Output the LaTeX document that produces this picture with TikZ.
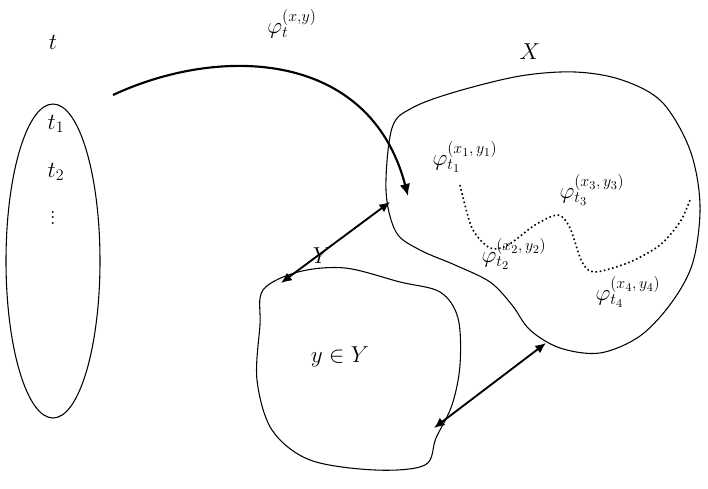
\documentclass[tikz,border=0pt]{standalone}
\usetikzlibrary{arrows.meta,shapes.geometric}
\begin{document}
\begin{tikzpicture}[x=0.75pt,y=-0.75pt,
  blob/.style={draw,line width=0.8pt},
  lbl/.style={font=\fontsize{18}{20}\selectfont},
  dbl/.style={{Latex[length=8pt,width=7pt]}-{Latex[length=8pt,width=7pt]},line width=1.4pt}]
\useasboundingbox (0,0) rectangle (708,489);
\node[draw,ellipse,minimum width=70.5pt,minimum height=235.5pt,line width=0.8pt] (ell) at (53,261) {};
\node[lbl] (t) at (53,42) {$t$};
\node[lbl] (t1) at (56,124) {$t_1$};
\node[lbl] (t2) at (56,172) {$t_2$};
\node[lbl,inner sep=0pt] (td) at (53,214) {$\vdots$};
% X blob
\draw[blob] plot[smooth cycle,tension=0.55] coordinates{(392,128)(412,108)(455,92)(520,76)(575,72)(622,80)(662,102)(690,150)(700,205)(693,262)(672,302)(640,336)(600,353)(560,348)(530,330)(512,305)(490,282)(455,265)(420,250)(396,232)(386,190)};
% Y blob
\draw[blob] plot[smooth cycle,tension=0.55] coordinates{(263,290)(298,272)(345,268)(400,282)(440,292)(458,318)(460,365)(452,405)(436,438)(425,465)(375,470)(310,460)(272,430)(257,380)(260,325)};
\coordinate (xa) at (390,202); \coordinate (ya) at (281,283);
\coordinate (xb) at (546,343); \coordinate (yb) at (434,428);
\draw[dbl] (ya) -- (xa);
\draw[dbl] (yb) -- (xb);
\coordinate (cs) at (113,95); \coordinate (ce) at (408,196);
\draw[line width=1.6pt,-{Latex[length=9pt,width=8pt]}] (cs) .. controls (220,45) and (370,50) .. (ce);
\node[lbl] (phi) at (292,24) {$\varphi_t^{(x,y)}$};
\node[lbl] (X) at (530,52) {$X$};
\node[lbl] (Y) at (322,256) {$Y$};
\node[lbl] (yY) at (340,357) {$y\in Y$};
\draw[dotted,line width=1.2pt] plot[smooth,tension=0.5] coordinates{(460,185)(472,228)(490,248)(508,245)(535,225)(558,215)(570,228)(582,262)(595,272)(630,262)(660,245)(680,222)(690,200)};
\node[lbl] (p1) at (465,157) {$\varphi_{t_1}^{(x_1,\,y_1)}$};
\node[lbl] (p3) at (592,190) {$\varphi_{t_3}^{(x_3,\,y_3)}$};
\node[lbl] (p2) at (514,254) {$\varphi_{t_2}^{(x_2,\,y_2)}$};
\node[lbl] (p4) at (628,292) {$\varphi_{t_4}^{(x_4,\,y_4)}$};
\end{tikzpicture}
\end{document}
